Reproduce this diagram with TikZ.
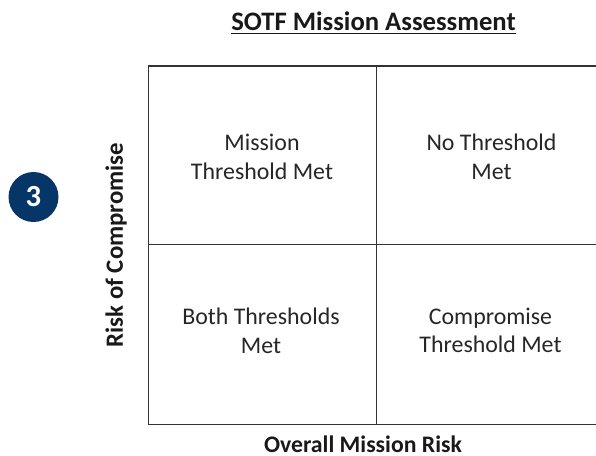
\documentclass[tikz,border=0pt]{standalone}
\usepackage{fontspec}
\setmainfont{Carlito}
\usepackage[svgnames]{xcolor}
\definecolor{badgeblue}{HTML}{053667}
\begin{document}
\begin{tikzpicture}[x=0.75pt, y=-0.75pt]
\tikzset{
  celltext/.style={align=center, font=\fontsize{17.9}{21.5}\selectfont, text=black!85},
  axistext/.style={inner sep=0pt, font=\bfseries\fontsize{17.8}{20}\selectfont, text=black!90},
}
\useasboundingbox (0, 0) rectangle (596, 456);

% grid
\coordinate (tl) at (148.5, 66);
\coordinate (tm) at (376.5, 66);
\coordinate (tr) at (596, 66);
\coordinate (ml) at (148.5, 244.5);
\coordinate (mr) at (596, 244.5);
\coordinate (bl) at (148.5, 424.5);
\coordinate (bm) at (376.5, 424.5);
\coordinate (br) at (596, 424.5);
\draw[color=black!80, line width=0.8pt] (br) -- (bl) -- (tl) -- (tr);
\draw[color=black!80, line width=0.8pt] (tm) -- (bm);
\draw[color=black!80, line width=0.8pt] (ml) -- (mr);

\node[celltext] (mission) at (262, 157) {Mission\\Threshold Met};
\node[celltext] (none) at (491.5, 157) {No Threshold\\Met};
\node[celltext] (both) at (261, 330.5) {Both Thresholds\\Met};
\node[celltext] (compromise) at (490.5, 330.5) {Compromise\\Threshold Met};

\node[font=\bfseries\fontsize{20}{22}\selectfont, text=black!90] (title) at (373.5, 23) {\underline{SOTF Mission Assessment}};
\node[axistext] (xaxis) at (363, 444) {Overall Mission Risk};
\node[axistext, rotate=90] (yaxis) at (116, 245) {\fontsize{18.6}{20}\selectfont Risk of Compromise};

\node[circle, fill=badgeblue, text=white, minimum size=37.5pt, inner sep=0pt, font=\bfseries\fontsize{23}{25}\selectfont] (badge) at (33.5, 197) {3};
\end{tikzpicture}
\end{document}
